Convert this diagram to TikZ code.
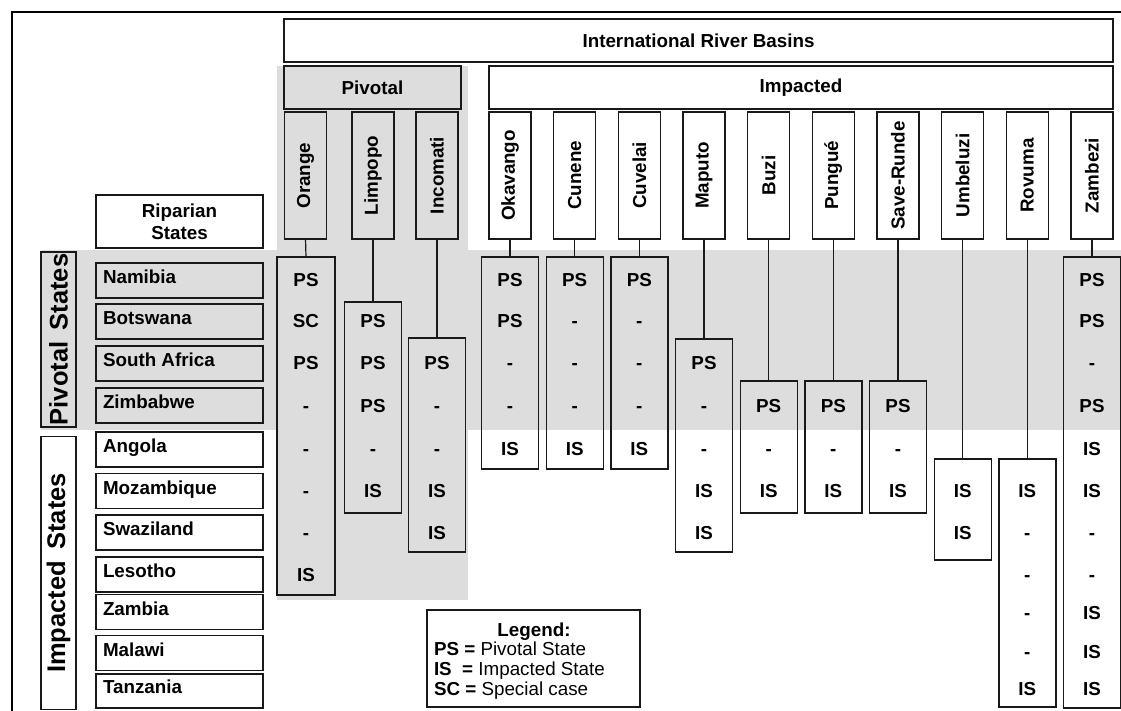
\documentclass[tikz,border=0pt]{standalone}
\usepackage{fontspec}
\setmainfont{Liberation Sans}
\definecolor{bg}{RGB}{221,221,221}
\definecolor{ln}{RGB}{25,25,25}
\begin{document}
\begin{tikzpicture}[x=1pt,y=-1pt,
  every node/.style={font=\fontsize{18.8}{20}\selectfont\bfseries, inner sep=0pt, outer sep=0pt},
  bx/.style={draw=ln, line width=1.4pt},
  hdr/.style={bx, fill=white, minimum height=43pt},
  basin/.style={bx, fill=white, minimum width=42pt, minimum height=127pt},
  pbasin/.style={basin, fill=bg},
  valbox/.style={bx, minimum width=57pt},
  state/.style={bx, fill=white, minimum width=167pt, minimum height=35pt},
  pstate/.style={state, fill=bg},
  stname/.style={anchor=base west},
  val/.style={anchor=base},
  grp/.style={bx, minimum width=35pt, font=\fontsize{25.5}{27}\selectfont\bfseries},
  conn/.style={draw=ln, line width=1.2pt}
]
\useasboundingbox (0,0) rectangle (1121,711);
% backgrounds
\fill[bg] (277,66) rectangle (468,600);
\fill[bg] (41,250) rectangle (1121,430);
% outer frame
\draw[line width=2.6pt] (12,711) -- (12,12) -- (1121,12);

% headers
\node[hdr, minimum width=829pt] (irb) at (698.5,40.5) {International River Basins};
\node[hdr, fill=bg, minimum width=177pt] (piv) at (372.5,87.5) {Pivotal};
\node[hdr, minimum width=624pt] (imp) at (801,87.5) {Impacted};

% basins
\node[pbasin] (orange) at (305.5,175.5) {\rotatebox{90}{Orange}};
\node[pbasin] (limpopo) at (373,175.5) {\rotatebox{90}{Limpopo}};
\node[pbasin] (incomati) at (437,175.5) {\rotatebox{90}{Incomati}};
\node[basin] (okavango) at (510,175.5) {\rotatebox{90}{Okavango}};
\node[basin] (cunene) at (574.7,175.5) {\rotatebox{90}{Cunene}};
\node[basin] (cuvelai) at (639.3,175.5) {\rotatebox{90}{Cuvelai}};
\node[basin] (maputo) at (704,175.5) {\rotatebox{90}{Maputo}};
\node[basin] (buzi) at (768.7,175.5) {\rotatebox{90}{Buzi}};
\node[basin] (pungue) at (833.3,175.5) {\rotatebox{90}{Pungué}};
\node[basin] (save) at (898,175.5) {\rotatebox{90}{Save-Runde}};
\node[basin] (umbeluzi) at (962.7,175.5) {\rotatebox{90}{Umbeluzi}};
\node[basin] (rovuma) at (1027.3,175.5) {\rotatebox{90}{Rovuma}};
\node[basin] (zambezi) at (1092,175.5) {\rotatebox{90}{Zambezi}};

% riparian
\node[bx, fill=white, minimum width=167pt, minimum height=53pt, align=center,
      font=\fontsize{18.8}{22}\selectfont\bfseries] (rip) at (179.5,221.5) {Riparian\\States};

% group labels
\node[grp, fill=bg, minimum height=175pt] (pgrp) at (58.5,339.5) {\rotatebox{90}{Pivotal\ \,States}};
\node[grp, fill=white, minimum height=273pt] (igrp) at (58.5,573) {\rotatebox{90}{Impacted\ \,States}};

% states
\node[pstate] (namibia) at (179.5,280.5) {};
\node[pstate] (botswana) at (179.5,321.5) {};
\node[pstate] (safrica) at (179.5,363.5) {};
\node[pstate] (zimbabwe) at (179.5,405.5) {};
\node[state] (angola) at (179.5,449.5) {};
\node[state] (mozambique) at (179.5,491) {};
\node[state] (swaziland) at (179.5,532.5) {};
\node[state] (lesotho) at (179.5,574.5) {};
\node[state] (zambia) at (179.5,612) {};
\node[state] (malawi) at (179.5,653) {};
\node[state, minimum height=34pt] (tanzania) at (179.5,691) {};
\node[stname] (tnamibia) at (103,283.5) {Namibia};
\node[stname] (tbotswana) at (103,324.5) {Botswana};
\node[stname] (tsafrica) at (103,366.5) {South Africa};
\node[stname] (tzimbabwe) at (103,408.5) {Zimbabwe};
\node[stname] (tangola) at (103,452.5) {Angola};
\node[stname] (tmozambique) at (103,494) {Mozambique};
\node[stname] (tswaziland) at (103,535.5) {Swaziland};
\node[stname] (tlesotho) at (103,577.5) {Lesotho};
\node[stname] (tzambia) at (103,615) {Zambia};
\node[stname] (tmalawi) at (103,656.5) {Malawi};
\node[stname] (ttanzania) at (103,693.5) {Tanzania};

% value boxes
\node[valbox, minimum width=58pt, minimum height=338pt] (vorange) at (306,426) {};
\node[valbox, minimum height=211pt] (vlimpopo) at (373,407.5) {};
\node[valbox, minimum height=214pt] (vincomati) at (437,445) {};
\node[valbox, minimum height=212pt] (vokavango) at (510,363) {};
\node[valbox, minimum height=212pt] (vcunene) at (574.7,363) {};
\node[valbox, minimum height=212pt] (vcuvelai) at (639.3,363) {};
\node[valbox, minimum height=213pt] (vmaputo) at (704,445.5) {};
\node[valbox, minimum height=132pt] (vbuzi) at (768.7,447) {};
\node[valbox, minimum height=132pt] (vpungue) at (833.3,447) {};
\node[valbox, minimum height=132pt] (vsave) at (898,447) {};
\node[valbox, minimum height=101pt] (vumbeluzi) at (962.7,509.5) {};
\node[valbox, minimum height=248pt] (vrovuma) at (1027.3,583) {};
\node[valbox, minimum height=451pt] (vzambezi) at (1092,482.5) {};

% connectors
\foreach \b in {orange,limpopo,incomati,okavango,cunene,cuvelai,maputo,buzi,pungue,save,umbeluzi,rovuma,zambezi}
  \draw[conn] (\b.south) -- (v\b.north);

% values (baselines)
\def\rNa{286.5}\def\rBo{327.5}\def\rSA{369.5}\def\rZi{412}\def\rAn{455.5}
\def\rMo{497.5}\def\rSw{539.5}\def\rLe{581}\def\rZa{619}\def\rMa{658}\def\rTa{695}
\node[val] (o1) at (306,\rNa) {PS};
\node[val] (o2) at (306,\rBo) {SC};
\node[val] (o3) at (306,\rSA) {PS};
\node[val] (o4) at (306,\rZi) {-};
\node[val] (o5) at (306,\rAn) {-};
\node[val] (o6) at (306,\rMo) {-};
\node[val] (o7) at (306,\rSw) {-};
\node[val] (o8) at (306,\rLe) {IS};
\node[val] (l2) at (373,\rBo) {PS};
\node[val] (l3) at (373,\rSA) {PS};
\node[val] (l4) at (373,\rZi) {PS};
\node[val] (l5) at (373,\rAn) {-};
\node[val] (l6) at (373,\rMo) {IS};
\node[val] (i3) at (437,\rSA) {PS};
\node[val] (i4) at (437,\rZi) {-};
\node[val] (i5) at (437,\rAn) {-};
\node[val] (i6) at (437,\rMo) {IS};
\node[val] (i7) at (437,\rSw) {IS};
\node[val] (k1) at (510,\rNa) {PS};
\node[val] (k2) at (510,\rBo) {PS};
\node[val] (k3) at (510,\rSA) {-};
\node[val] (k4) at (510,\rZi) {-};
\node[val] (k5) at (510,\rAn) {IS};
\node[val] (c1) at (574.7,\rNa) {PS};
\node[val] (c2) at (574.7,\rBo) {-};
\node[val] (c3) at (574.7,\rSA) {-};
\node[val] (c4) at (574.7,\rZi) {-};
\node[val] (c5) at (574.7,\rAn) {IS};
\node[val] (u1) at (639.3,\rNa) {PS};
\node[val] (u2) at (639.3,\rBo) {-};
\node[val] (u3) at (639.3,\rSA) {-};
\node[val] (u4) at (639.3,\rZi) {-};
\node[val] (u5) at (639.3,\rAn) {IS};
\node[val] (m3) at (704,\rSA) {PS};
\node[val] (m4) at (704,\rZi) {-};
\node[val] (m5) at (704,\rAn) {-};
\node[val] (m6) at (704,\rMo) {IS};
\node[val] (m7) at (704,\rSw) {IS};
\node[val] (b4) at (768.7,\rZi) {PS};
\node[val] (b5) at (768.7,\rAn) {-};
\node[val] (b6) at (768.7,\rMo) {IS};
\node[val] (p4) at (833.3,\rZi) {PS};
\node[val] (p5) at (833.3,\rAn) {-};
\node[val] (p6) at (833.3,\rMo) {IS};
\node[val] (s4) at (898,\rZi) {PS};
\node[val] (s5) at (898,\rAn) {-};
\node[val] (s6) at (898,\rMo) {IS};
\node[val] (e6) at (962.7,\rMo) {IS};
\node[val] (e7) at (962.7,\rSw) {IS};
\node[val] (r6) at (1027.3,\rMo) {IS};
\node[val] (r7) at (1027.3,\rSw) {-};
\node[val] (r8) at (1027.3,\rLe) {-};
\node[val] (r9) at (1027.3,\rZa) {-};
\node[val] (r10) at (1027.3,\rMa) {-};
\node[val] (r11) at (1027.3,\rTa) {IS};
\node[val] (z1) at (1092,\rNa) {PS};
\node[val] (z2) at (1092,\rBo) {PS};
\node[val] (z3) at (1092,\rSA) {-};
\node[val] (z4) at (1092,\rZi) {PS};
\node[val] (z5) at (1092,\rAn) {IS};
\node[val] (z6) at (1092,\rMo) {IS};
\node[val] (z7) at (1092,\rSw) {-};
\node[val] (z8) at (1092,\rLe) {-};
\node[val] (z9) at (1092,\rZa) {IS};
\node[val] (z10) at (1092,\rMa) {IS};
\node[val] (z11) at (1092,\rTa) {IS};

% legend
\node[bx, fill=white, minimum width=213pt, minimum height=97pt] (legend) at (533.5,658.5) {};
\node[anchor=base] (lgt) at (534,636) {Legend:};
\node[anchor=base west] (lg1) at (434,655) {PS = \mdseries Pivotal State};
\node[anchor=base west] (lg2) at (434,675) {IS\ \ = \mdseries Impacted State};
\node[anchor=base west] (lg3) at (434,695) {SC = \mdseries Special case};
\end{tikzpicture}
\end{document}
